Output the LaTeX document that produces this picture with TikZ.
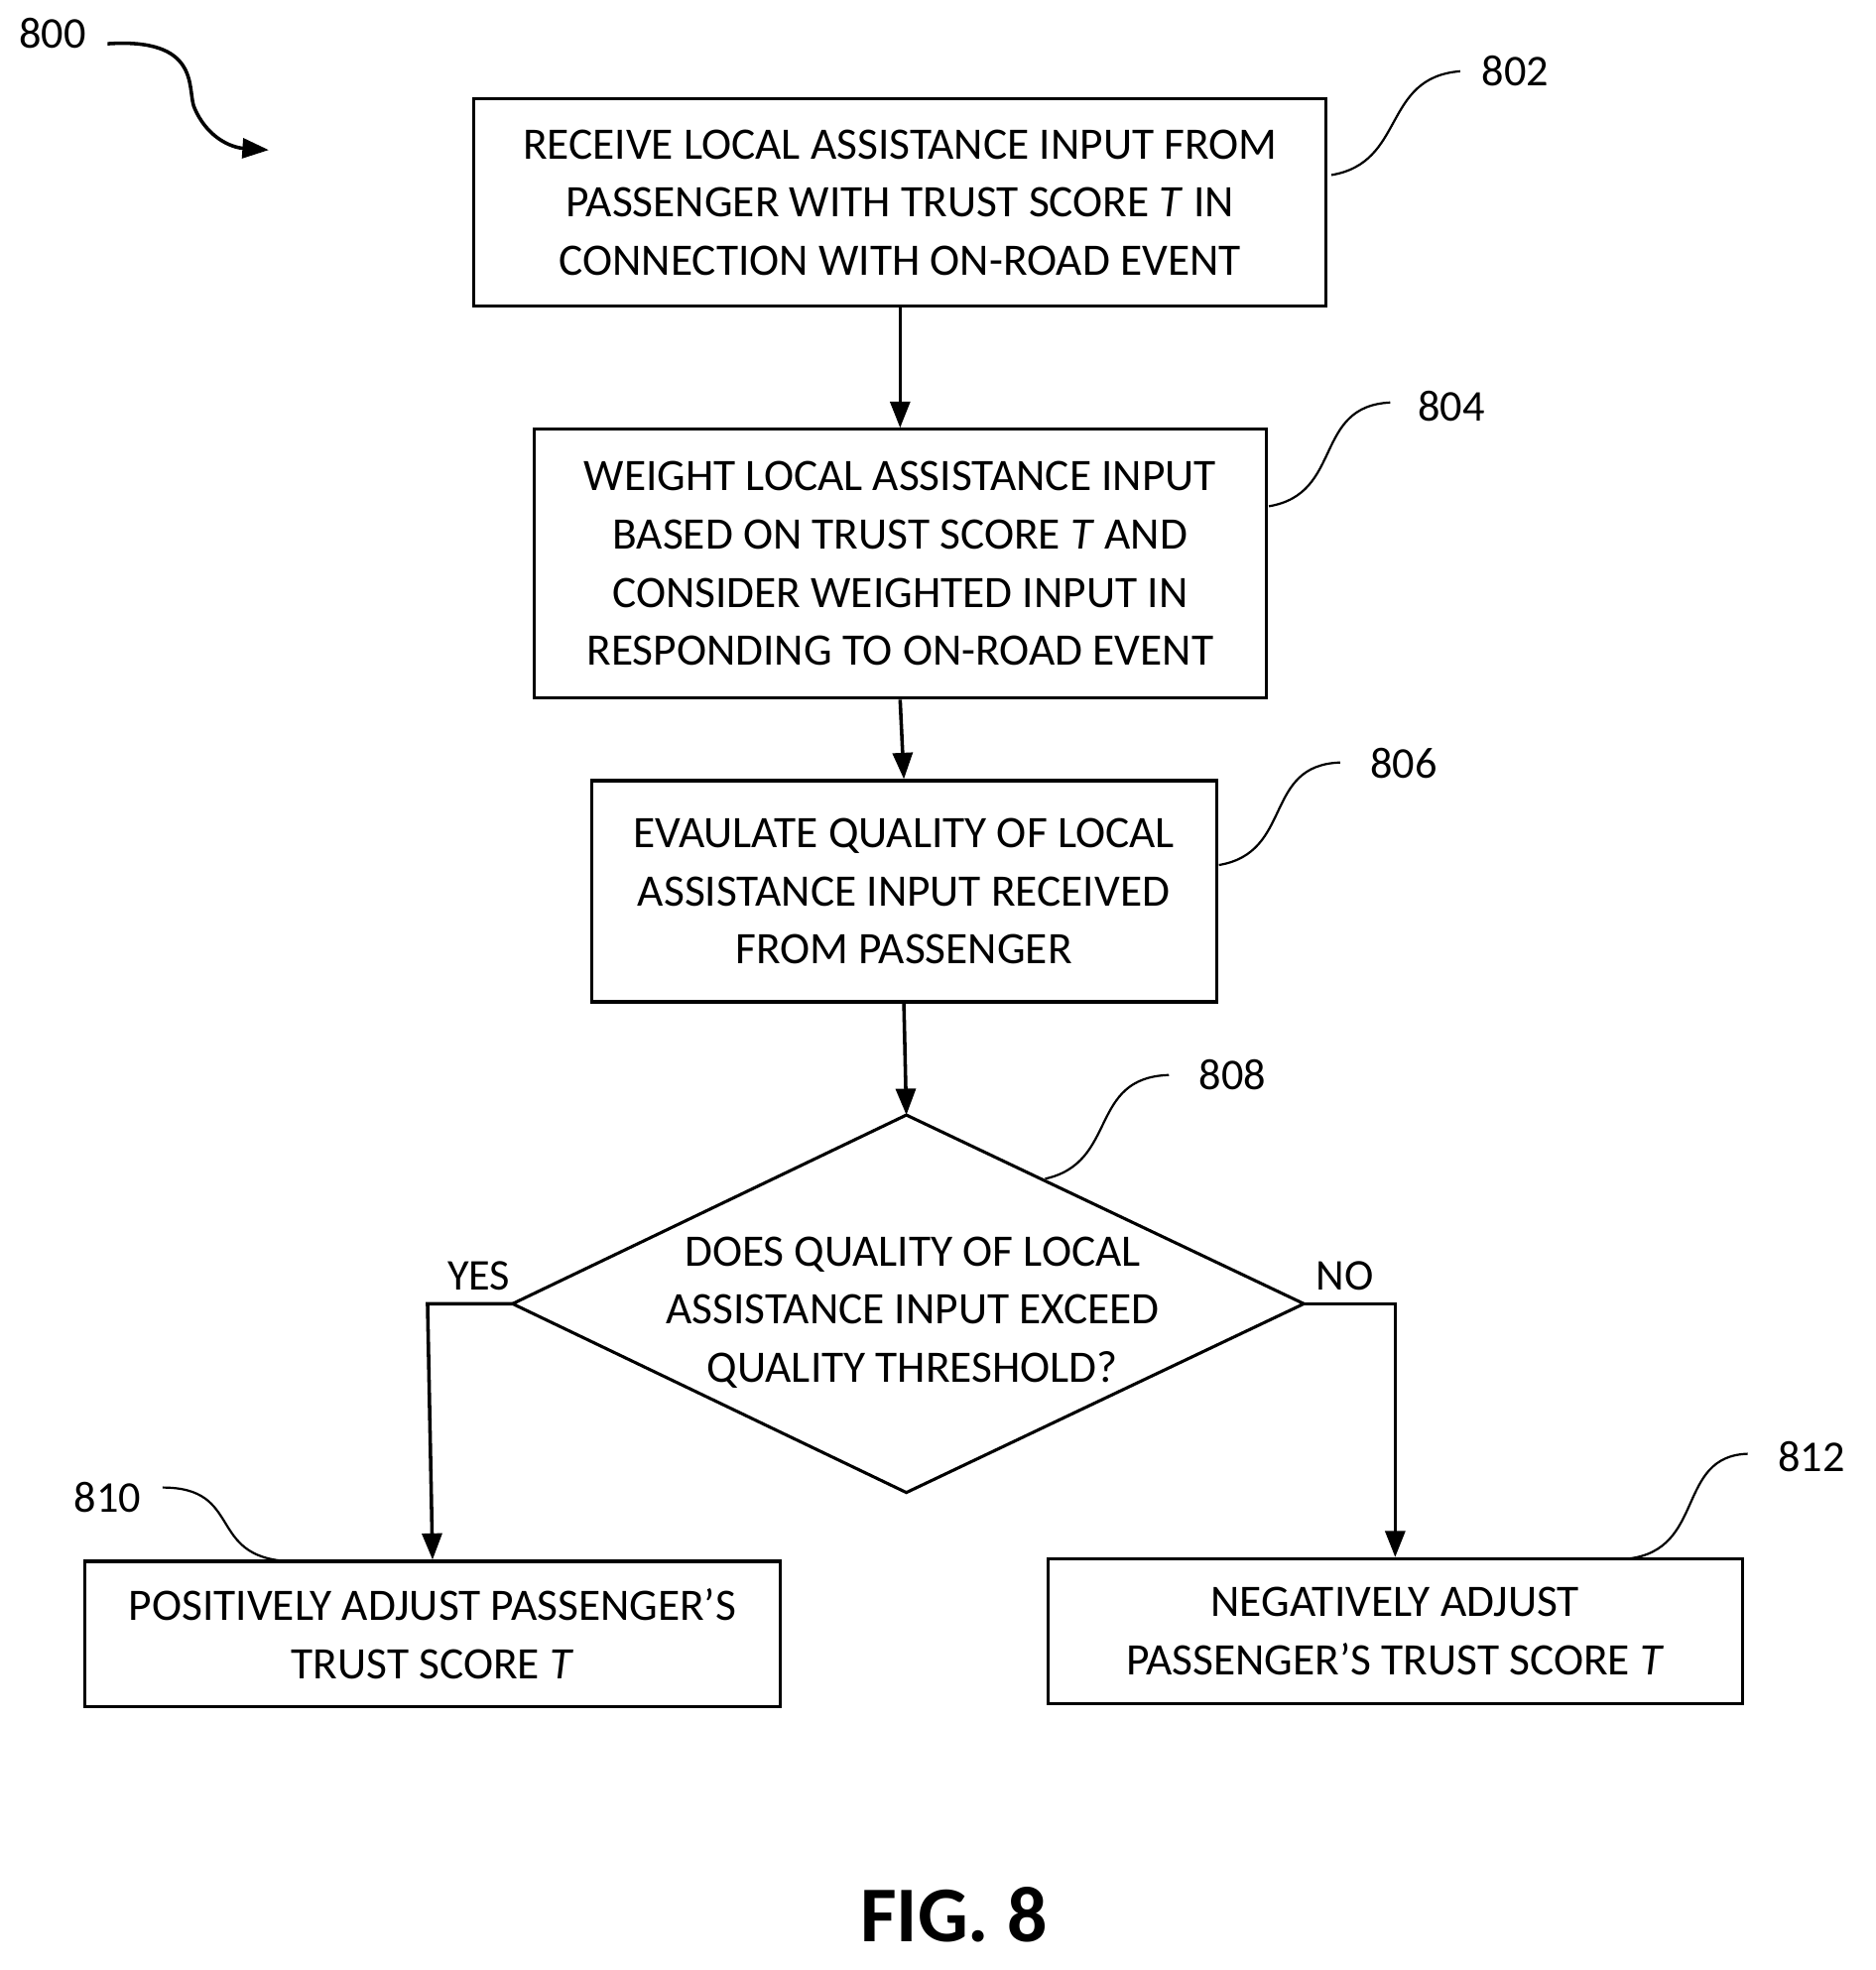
\documentclass[tikz,border=0pt]{standalone}
\usepackage{fontspec}
\setmainfont{Carlito}
\usetikzlibrary{arrows.meta}
\begin{document}
\begin{tikzpicture}[x=0.02cm,y=-0.02cm,
  box/.style={draw,line width=1.4pt,inner sep=0pt,align=center,font=\fontsize{20.5}{26.5}\selectfont},
  lbl/.style={font=\fontsize{20}{22}\selectfont},
  arr/.style={line width=1.6pt,-{Triangle[length=12pt,width=9pt]}},
  sq/.style={line width=1pt}]
\useasboundingbox (0,0) rectangle (1500,1576);
\node[box,minimum width=13.64cm,minimum height=3.32cm] (b802) at (720,162) {RECEIVE LOCAL ASSISTANCE INPUT FROM\\PASSENGER WITH TRUST SCORE \textit{T} IN\\CONNECTION WITH ON-ROAD EVENT};
\node[box,minimum width=11.72cm,minimum height=4.3cm] (b804) at (720,451) {WEIGHT LOCAL ASSISTANCE INPUT\\BASED ON TRUST SCORE \textit{T} AND\\CONSIDER WEIGHTED INPUT IN\\RESPONDING TO ON-ROAD EVENT};
\node[box,minimum width=10cm,minimum height=3.54cm] (b806) at (723,713) {EVAULATE QUALITY OF LOCAL\\ASSISTANCE INPUT RECEIVED\\FROM PASSENGER};
\coordinate (dt) at (725,892); \coordinate (db) at (725,1194);
\coordinate (dl) at (410,1043); \coordinate (dr) at (1043,1043);
\draw[line width=1.4pt] (dt) -- (dr) -- (db) -- (dl) -- cycle;
\node[align=center,font=\fontsize{20.5}{26.5}\selectfont] (d808) at (730,1050) {DOES QUALITY OF LOCAL\\ASSISTANCE INPUT EXCEED\\QUALITY THRESHOLD?};
\node[box,minimum width=11.12cm,minimum height=2.32cm] (b810) at (346,1307) {POSITIVELY ADJUST PASSENGER’S\\TRUST SCORE \textit{T}};
\node[box,minimum width=11.12cm,minimum height=2.32cm] (b812) at (1116,1305) {NEGATIVELY ADJUST\\PASSENGER’S TRUST SCORE \textit{T}};
\draw[arr] (b802.south) -- (b804.north);
\draw[arr] (b804.south) -- (b806.north);
\draw[arr] (b806.south) -- (dt);
\coordinate (yc) at (342,1043); \coordinate (nc) at (1116,1043);
\draw[arr] (dl) -- (yc) -- (b810.north);
\draw[arr] (dr) -- (nc) -- (b812.north);
\node[lbl] (yes) at (383,1021) {YES};
\node[lbl] (no) at (1076,1021) {NO};
\node[lbl] (l800) at (42,27) {800};
\node[lbl] (l802) at (1212,57) {802};
\node[lbl] (l804) at (1161,325) {804};
\node[lbl] (l806) at (1123,611) {806};
\node[lbl] (l808) at (986,860) {808};
\node[lbl] (l810) at (86,1198) {810};
\node[lbl] (l812) at (1449,1165) {812};
\node[font=\fontsize{36}{40}\selectfont\bfseries] (fig) at (763,1532) {FIG. 8};
\coordinate (a0) at (86,35); \coordinate (a1) at (215,120);
\draw[line width=1.6pt,-{Triangle[length=12pt,width=9pt]}] (a0) .. controls (160,30) and (150,70) .. (155,85) .. controls (165,110) and (185,118) .. (a1);
\draw[sq] (1065,140) .. controls (1125,130) and (1105,62) .. (1168,57);
\draw[sq] (1015,405) .. controls (1075,395) and (1050,325) .. (1112,322);
\draw[sq] (975,692) .. controls (1035,682) and (1010,612) .. (1072,610);
\draw[sq] (836,943) .. controls (895,930) and (870,862) .. (935,860);
\draw[sq] (130,1190) .. controls (195,1190) and (165,1245) .. (230,1249);
\draw[sq] (1302,1247) .. controls (1365,1240) and (1340,1165) .. (1398,1163);
\end{tikzpicture}
\end{document}
